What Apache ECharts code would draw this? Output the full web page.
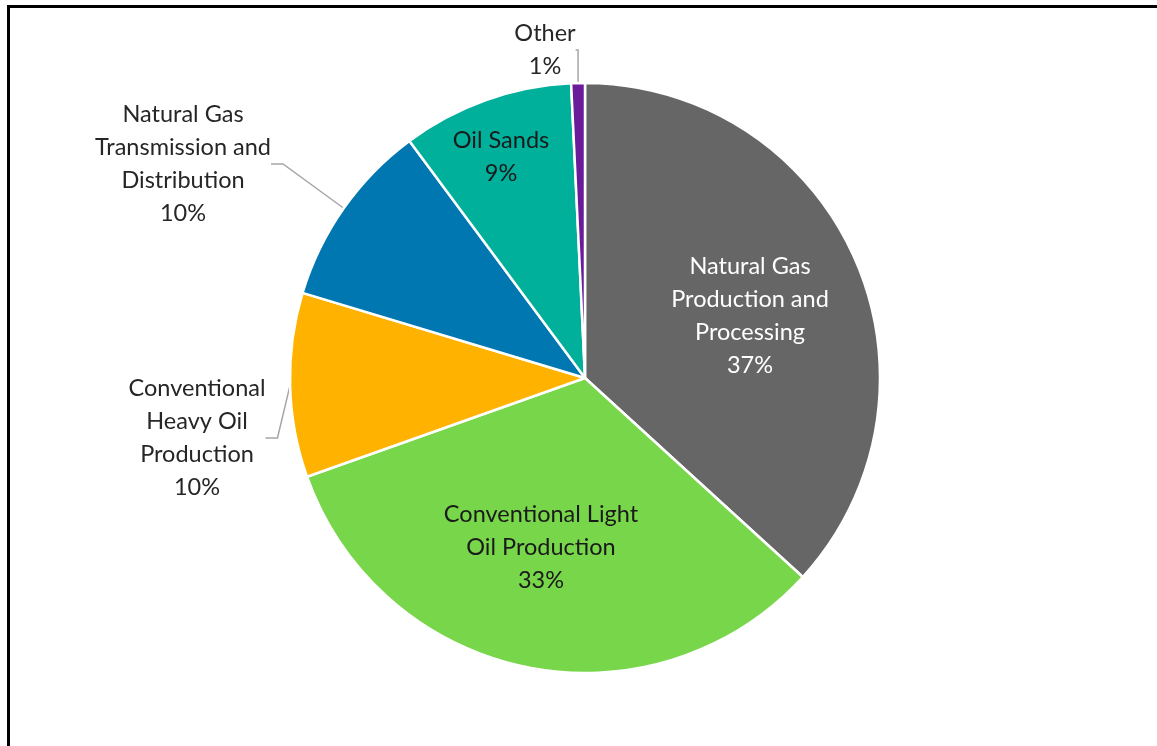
<!DOCTYPE html>
<html>
<head>
<meta charset="utf-8">
<script src="https://cdn.jsdelivr.net/npm/echarts@6/dist/echarts.min.js"></script>
<style>
  html, body { margin: 0; padding: 0; background: #fff; }
  #frame { position: absolute; left: 7px; top: 5px; width: 1160px; height: 760px;
           border-left: 3px solid #000; border-top: 3px solid #000; box-sizing: border-box; }
  #chart { position: absolute; left: 0; top: 0; width: 1157px; height: 746px; }
</style>
</head>
<body>
<div id="frame"></div>
<div id="chart"></div>
<script>
// Data
const categories = [
  'Natural Gas Production and Processing',
  'Conventional Light Oil Production',
  'Conventional Heavy Oil Production',
  'Natural Gas Transmission and Distribution',
  'Oil Sands',
  'Other'
];
const labelTexts = [
  'Natural Gas\nProduction and\nProcessing',
  'Conventional Light\nOil Production',
  'Conventional\nHeavy Oil\nProduction',
  'Natural Gas\nTransmission and\nDistribution',
  'Oil Sands',
  'Other'
];
const values = [36.8, 32.8, 10.1, 10.2, 9.4, 0.75];
const colors = ['#666666', '#78D64B', '#FFB300', '#0077B0', '#00B09B', '#6A1B9A'];

// label layout (centers, px) and styling
const labelCenters = [
  [750, 316], [541, 547], [197, 438], [183, 164], [501, 157], [545, 50]
];
const insideIdx = [0, 1, 4];
const textColors = ['#ffffff', '#1a1a1a', '#262626', '#262626', '#1a1a1a', '#262626'];

const chart = echarts.init(document.getElementById('chart'), null, { renderer: 'canvas' });
const FONT = 'Lato, "Open Sans", sans-serif';

const data = categories.map((c, i) => {
  const inside = insideIdx.includes(i);
  return {
    name: c,
    value: values[i],
    itemStyle: { color: colors[i] },
    label: {
      show: true,
      position: inside ? 'inside' : 'outside',
      color: textColors[i],
      formatter: (p) => labelTexts[p.dataIndex] + '\n' + p.percent + '%'
    },
    labelLine: { show: !inside }
  };
});

chart.setOption({
  animation: false,
  backgroundColor: 'transparent',
  series: [{
    type: 'pie',
    center: [585, 378],
    radius: [0, 295],
    startAngle: 90,
    clockwise: true,
    percentPrecision: 0,
    avoidLabelOverlap: false,
    itemStyle: { borderColor: '#ffffff', borderWidth: 2.5 },
    label: {
      fontFamily: FONT,
      fontSize: 23.5,
      lineHeight: 33,
      align: 'center'
    },
    labelLine: {
      lineStyle: { color: '#A6A6A6', width: 1.5 },
      length: 10,
      length2: 12
    },
    labelLayout: function (params) {
      const c = labelCenters[params.dataIndex];
      return { x: c[0], y: c[1], align: 'center', verticalAlign: 'middle' };
    },
    data: data
  }]
});
</script>
</body>
</html>
